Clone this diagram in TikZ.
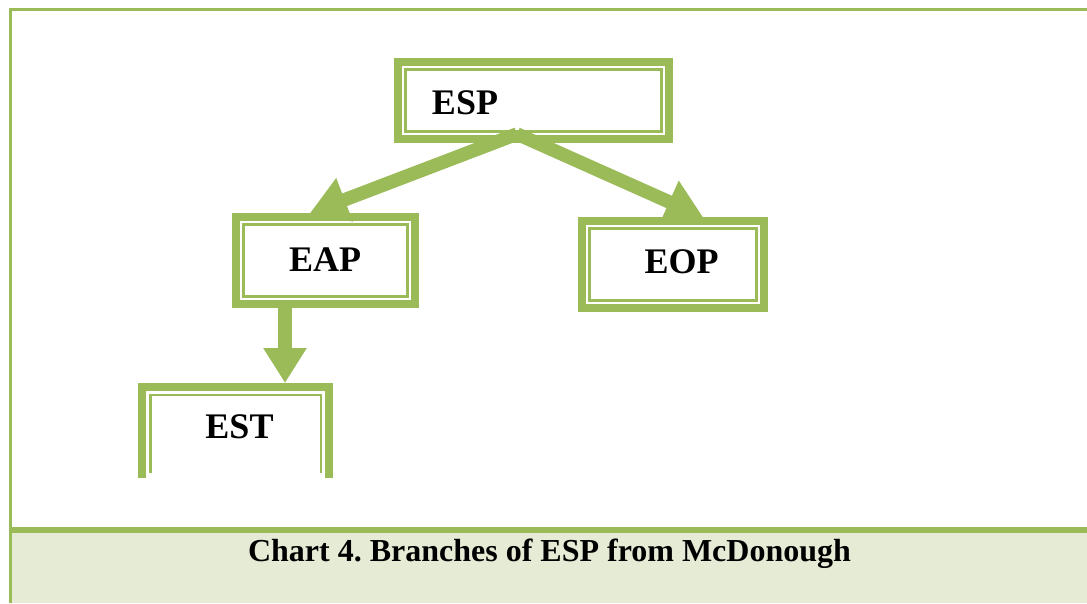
\documentclass[tikz,border=0pt]{standalone}
\usepackage{fontspec}
\setmainfont{Liberation Serif}
\usetikzlibrary{arrows.meta,calc}
\definecolor{leaf}{HTML}{9BBB59}
\definecolor{leafpale}{HTML}{E5EBD4}
\frenchspacing
\begin{document}
\begin{tikzpicture}[x=1pt,y=1pt,
  box/.style={draw=leaf, line width=8pt, rectangle, inner sep=0pt, outer sep=0pt, fill=white},
  trim/.style={draw=leaf, line width=2.5pt},
  lbl/.style={anchor=base, font=\bfseries\fontsize{36}{40}\selectfont, inner sep=0pt},
  branch/.style={draw=leaf, line width=13.5pt, -{Triangle[length=37pt,width=44pt]}},
  drop/.style={draw=leaf, line width=13.5pt, -{Triangle[length=35pt,width=41pt]}},
]
\useasboundingbox (0,0) rectangle (1087,-603);

% caption panel and outer frame
\fill[leafpale] (12,-533) rectangle (1087,-603);
\draw[leaf, line width=6pt] (12,-530) -- (1087,-530);
\draw[leaf, line width=3pt] (10.5,-603) -- (10.5,-9.5) -- (1087,-9.5);

% boxes
\node[box, minimum width=271pt, minimum height=77pt] (esp) at (533.5,-100.5) {};
\node[box, minimum width=179pt, minimum height=87pt] (eap) at (325.5,-260.5) {};
\node[box, minimum width=182pt, minimum height=87pt] (eop) at (673,-264.5) {};
\node[minimum width=187pt, minimum height=91pt, inner sep=0pt, outer sep=0pt] (est) at (235.5,-432.5) {};

% open frame of the lowest box
\draw[leaf, line width=8pt] (est.south west) -- (est.north west) -- (est.north east) -- (est.south east);

% connectors
\coordinate (fork) at ($(esp.south)+(-16.5,5)$);
\draw[branch] (fork) -- ($(eap.north)+(-15.5,4)$);
\draw[branch] (fork) -- ($(eop.north)+(30,4)$);
\draw[drop] ($(eap.south)+(-40.5,0)$) -- ($(est.north)+(49.5,4)$);

% inner trim lines
\foreach \n in {esp,eap,eop}
  \draw[trim] ($(\n.north west)+(7.5,-7.5)$) rectangle ($(\n.south east)+(-7.5,7.5)$);
\draw[trim] ($(est.south west)+(8.5,5)$) -- ($(est.north west)+(8.5,-8)$)
  -- ($(est.north east)+(-8,-8)$) -- ($(est.south east)+(-8,5)$);

% labels
\node[lbl] (esptext) at (465,-114) {ESP};
\node[lbl] (eaptext) at (325,-271) {EAP};
\node[lbl] (eoptext) at (681.5,-273) {EOP};
\node[lbl] (esttext) at (239.5,-438) {EST};

\node[anchor=base, font=\bfseries\fontsize{32}{36}\selectfont, inner sep=0pt] (caption)
  at (549.5,-561.5) {Chart 4. Branches of ESP from McDonough};
\end{tikzpicture}
\end{document}
